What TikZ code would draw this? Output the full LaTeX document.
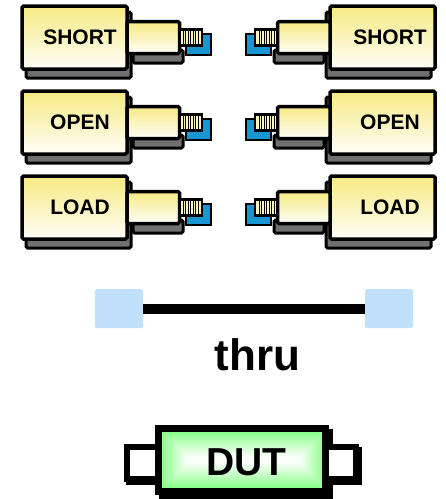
\documentclass[tikz,border=0pt]{standalone}
\usepackage{fontspec}
\setmainfont{Liberation Sans}

\definecolor{bodyyellow}{RGB}{246,234,130}
\definecolor{shadowgray}{RGB}{112,112,112}
\definecolor{plugblue}{RGB}{24,150,210}
\definecolor{threadyellow}{RGB}{250,244,196}
\definecolor{padblue}{RGB}{192,224,252}
\definecolor{dutgreen}{RGB}{140,255,140}

% yellow on top, white low down, a little yellow again at the bottom
\pgfdeclareverticalshading{bodyshade}{100bp}{color(0bp)=(bodyyellow!55);
  color(22bp)=(white); color(75bp)=(bodyyellow); color(100bp)=(bodyyellow)}

\tikzset{
  body/.style={draw=black, line width=3.5pt, rounded corners=1.5pt, shading=bodyshade},
  shadowbox/.style={draw=black, line width=3pt, rounded corners=1.5pt, fill=shadowgray},
  plug/.style={draw=black, line width=2.5pt, fill=plugblue},
  thread/.style={draw=black, line width=2.5pt, fill=threadyellow},
  stdlabel/.style={anchor=base, font=\fontsize{21}{21}\selectfont\bfseries},
  thrupad/.style={fill=padblue, rounded corners=1.5pt, minimum width=48pt, minimum height=39pt, inner sep=0pt},
}

% one standard with its connector, shifted down by #1
\newcommand{\calstd}[1]{%
  \begin{scope}[shift={(0,#1)}]
    \draw[shadowbox] (26,12) rectangle (131,78);
    \draw[shadowbox] (133,50) rectangle (183,63);
    \draw[body] (22,6) rectangle (127,69);
    \draw[body] (127,21.5) rectangle (179.5,53.5);
    \draw[plug] (186,34) rectangle (211,55);
    \draw[thread] (180,29.5) rectangle (202,45.5);
    \foreach \s in {183,185.5,...,200}
      \draw[line width=1pt] (\s,31) -- (\s,44);
  \end{scope}}

\begin{document}
\begin{tikzpicture}[x=1pt, y=-1pt]
  \useasboundingbox (0,0) rectangle (446,499);

  % short, open and load on both ports
  \foreach \dy in {0,85,170} {
    \calstd{\dy}
    \begin{scope}[xshift=457pt, xscale=-1]
      \calstd{\dy}
    \end{scope}
  }
  \node[stdlabel] (shortL) at (80,44.5) {SHORT};
  \node[stdlabel] (openL) at (80,129.5) {OPEN};
  \node[stdlabel] (loadL) at (80,214.5) {LOAD};
  \node[stdlabel] (shortR) at (390,44.5) {SHORT};
  \node[stdlabel] (openR) at (390,129.5) {OPEN};
  \node[stdlabel] (loadR) at (390,214.5) {LOAD};

  % thru line
  \node[thrupad] (padL) at (119,308.5) {};
  \node[thrupad] (padR) at (389,308.5) {};
  \draw[line width=10pt] (padL) -- (padR);
  \node[anchor=base, font=\fontsize{44}{44}\selectfont\bfseries] (thru) at (257.5,370) {thru};

  % device under test
  \draw[line width=6pt, fill=black] (129,450) rectangle (161,482);
  \draw[line width=6pt, fill=black] (328,450) rectangle (359,482);
  \draw[line width=7pt, fill=black] (162,432.5) rectangle (329,495.5);
  \draw[line width=6pt, fill=white] (126.5,447) rectangle (158.5,478.5);
  \draw[line width=6pt, fill=white] (325.5,447) rectangle (356,478.5);
  \foreach \i [evaluate=\i as \p using int(100-8*\i)] in {0,...,12}
    \fill[dutgreen!\p!white] (162+2*\i,432+2*\i) rectangle (325-2*\i,488-2*\i);
  \draw[line width=7pt] (158.5,428.5) rectangle (325.5,491.5);
  \node[anchor=base, font=\fontsize{39}{39}\selectfont\bfseries] (dut) at (246.5,475) {DUT};
\end{tikzpicture}
\end{document}
